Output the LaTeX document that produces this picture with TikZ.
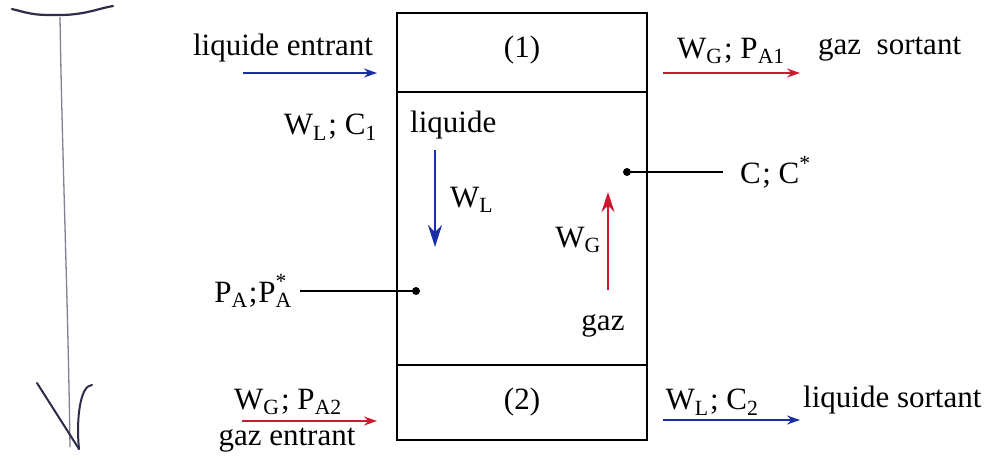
\documentclass[tikz,border=0pt]{standalone}
\usepackage{fontspec}
\setmainfont{Liberation Serif}
\newfontfamily\timesface{Liberation Serif}
\usetikzlibrary{arrows.meta}
\definecolor{flowblue}{RGB}{25,45,165}
\definecolor{flowred}{RGB}{205,25,45}
\definecolor{pencil}{RGB}{45,45,75}
\newcommand{\sbs}[1]{\textsubscript{#1}}
\newcommand{\semi}{\kern1.5pt;\ }
\begin{document}
\begin{tikzpicture}[x=1pt,y=-1pt,
  lbl/.style={inner sep=0pt,font=\timesface\fontsize{31}{34}\selectfont},
  boxline/.style={line width=2pt,black},
  bluearrow/.style={flowblue,line width=1.6pt,-{Stealth[length=13pt,width=9pt]}},
  redarrow/.style={flowred,line width=1.6pt,-{Stealth[length=13pt,width=9pt]}},
  bigblue/.style={flowblue,line width=2pt,-{Stealth[length=22pt,width=14pt]}},
  bigred/.style={flowred,line width=1.8pt,-{Stealth[length=20pt,width=13pt]}},
  probe/.style={line width=1.3pt,black},
  dotnode/.style={circle,fill=black,inner sep=0pt,minimum size=8pt}]
\useasboundingbox (0,0) rectangle (999,457);
\fill[white] (0,0) rectangle (999,457);
% hand drawn arrow
\draw[pencil,line width=2.2pt,line cap=round] (12,9) .. controls (35,15) .. (60,15) .. controls (85,15) and (100,8) .. (113,6);
\draw[pencil!60,line width=1.3pt] (60,17) .. controls (62,150) and (68,300) .. (70,447);
\draw[pencil,line width=2pt,line cap=round] (37,383) -- (79,449);
\draw[pencil,line width=2pt,line cap=round] (79,449) .. controls (76,420) and (80,385) .. (92,385);
% column
\coordinate (tl) at (397,13);
\coordinate (br) at (647,440);
\draw[boxline] (tl) rectangle (br);
\coordinate (d1l) at (397,92); \coordinate (d1r) at (647,92);
\coordinate (d2l) at (397,365); \coordinate (d2r) at (647,365);
\draw[boxline] (d1l) -- (d1r);
\draw[boxline] (d2l) -- (d2r);
\node[lbl] (one) at (522,50) {(1)};
\node[lbl] (two) at (522,402) {(2)};
% liquid inlet
\node[lbl] (liqin) at (283,48) {liquide entrant};
\coordinate (liqinA) at (243,73); \coordinate (liqinB) at (377,73);
\draw[bluearrow] (liqinA) -- (liqinB);
\node[lbl,anchor=east] (wlc1) at (377,127) {W\sbs{L}\semi C\sbs{1}};
\node[lbl,anchor=west] (liq) at (410,125) {liquide};
\coordinate (wlA) at (435,150); \coordinate (wlB) at (435,247);
\draw[bigblue] (wlA) -- (wlB);
\node[lbl,anchor=west] (wl) at (450,200) {W\sbs{L}};
% gas inside
\coordinate (wgA) at (608,290); \coordinate (wgB) at (608,192);
\draw[bigred] (wgA) -- (wgB);
\node[lbl,anchor=east] (wg) at (601,240) {W\sbs{G}};
\node[lbl] (gaz) at (603,326) {gaz};
% probes
\node[dotnode] (dc) at (627,172) {};
\coordinate (dcE) at (723,172);
\draw[probe] (dc.center) -- (dcE);
\node[lbl,anchor=west] (cc) at (740,172) {C\semi C\raisebox{4pt}{\textsuperscript{*}}};
\node[dotnode] (dp) at (416,291) {};
\coordinate (dpW) at (300,291);
\draw[probe] (dpW) -- (dp.center);
\node[lbl,anchor=east] (pa) at (292,291) {P\sbs{A}\kern1pt;\kern1pt P\rlap{\raisebox{5pt}{\textsuperscript{*}}}\sbs{A}};
% gas inlet
\node[lbl] (wgpa2) at (288,402) {W\sbs{G}\semi P\sbs{A2}};
\coordinate (gasinA) at (242,421); \coordinate (gasinB) at (377,421);
\draw[redarrow] (gasinA) -- (gasinB);
\node[lbl] (gasin) at (287,440) {gaz entrant};
% gas outlet
\node[lbl] (wgpa1) at (731,51) {W\sbs{G}\semi P\sbs{A1}};
\coordinate (gasoutA) at (663,73); \coordinate (gasoutB) at (800,73);
\draw[redarrow] (gasoutA) -- (gasoutB);
\node[lbl,anchor=west] (gasout) at (818,49) {gaz\ \ sortant};
% liquid outlet
\node[lbl] (wlc2) at (712,402) {W\sbs{L}\semi C\sbs{2}};
\coordinate (liqoutA) at (663,420); \coordinate (liqoutB) at (800,420);
\draw[bluearrow] (liqoutA) -- (liqoutB);
\node[lbl,anchor=west] (liqout) at (803,400) {liquide sortant};
\end{tikzpicture}
\end{document}
